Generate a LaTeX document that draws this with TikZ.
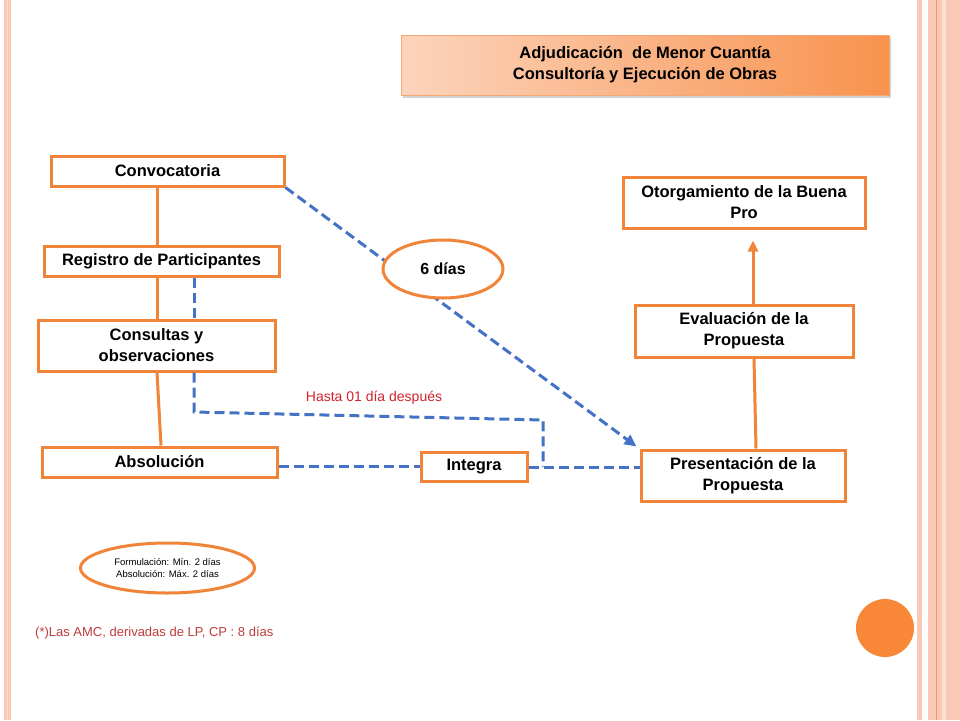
\documentclass[tikz,border=0pt]{standalone}
\usepackage{fontspec}
\setmainfont{Liberation Sans}
\usetikzlibrary{shadows,arrows.meta,shapes.geometric}
\definecolor{ora}{RGB}{240,132,56}
\definecolor{orafill}{RGB}{248,135,55}
\definecolor{pinkA}{RGB}{250,201,182}
\definecolor{pinkL}{RGB}{252,222,210}
\definecolor{blu}{RGB}{68,114,196}
\definecolor{redtxt}{RGB}{210,35,45}
\definecolor{redfoot}{RGB}{192,60,60}
\definecolor{titL}{RGB}{252,212,188}
\definecolor{titR}{RGB}{248,146,78}
\tikzset{
  boxnode/.style={draw=ora, line width=3pt, fill=white, inner sep=0pt, align=center,
    font=\fontsize{16.5}{21}\selectfont\bfseries},
  ovalnode/.style={ellipse, draw=ora, line width=3pt, fill=white, inner sep=0pt, align=center},
  oline/.style={draw=ora, line width=3pt},
  bdash/.style={draw=blu, line width=3pt, dash pattern=on 10pt off 5pt},
}
\begin{document}
\begin{tikzpicture}[x=1pt,y=-1pt]
\useasboundingbox (0,0) rectangle (960,720);
\fill[white] (0,0) rectangle (960,720);
% borders
\fill[pinkA] (4,0) rectangle (11,720);
\fill[pinkL] (7,0) rectangle (8,720);
\fill[pinkA] (917,0) rectangle (922,720);
\fill[pinkA] (928,0) rectangle (960,720);
\fill[pinkL] (942,0) rectangle (946,720);
\draw[draw=ora!80, line width=1pt] (936,0) -- (936,720);

% title
\node[draw=ora!70, line width=0.6pt, left color=titL, right color=titR, inner sep=0pt,
  minimum width=488pt, minimum height=60pt, align=center,
  drop shadow={shadow xshift=2pt, shadow yshift=-3pt, opacity=0.35},
  font=\fontsize{16.5}{21}\selectfont\bfseries] (title) at (645,65)
  {Adjudicación\ \ de Menor\ Cuantía\\Consultoría\ y Ejecución\ de Obras};

% nodes
\node[boxnode, minimum width=233pt, minimum height=30pt] (conv) at (167.5,171) {Convocatoria};
\node[boxnode, minimum width=235pt, minimum height=30pt] (reg) at (161.5,261) {Registro\ de Participantes};
\node[boxnode, minimum width=237pt, minimum height=51pt] (cons) at (156.5,345.5) {Consultas\ y\\observaciones};
\node[boxnode, minimum width=235pt, minimum height=30pt] (abs) at (159.5,462) {Absolución};
\node[boxnode, minimum width=106pt, minimum height=29pt] (integ) at (474,466.5) {Integra};
\node[boxnode, minimum width=204pt, minimum height=51pt] (pres) at (743,475.5) {Presentación\ de la\\Propuesta};
\node[boxnode, minimum width=218pt, minimum height=52pt] (eval) at (744,331) {Evaluación\ de la\\Propuesta};
\node[boxnode, minimum width=242pt, minimum height=51pt] (otor) at (744,202.5) {Otorgamiento\ de la Buena\\Pro};

% orange solid connectors
\draw[oline] ([xshift=-10.5pt]conv.south) -- ([xshift=-4.5pt]reg.north);
\draw[oline] ([xshift=-4.5pt]reg.south) -- ([xshift=0.5pt]cons.north);
\draw[oline] ([xshift=0.5pt]cons.south) -- ([xshift=1.5pt]abs.north);
\draw[oline] ([xshift=13pt]pres.north) -- ([xshift=10pt]eval.south);
\coordinate (otip) at ([xshift=9pt,yshift=-11pt]otor.south);
\draw[oline, -{Triangle[length=11pt,width=10pt]}] ([xshift=9pt]eval.north) -- (otip);

% blue dashed connectors
\coordinate (c1) at (194,412);
\coordinate (c2) at (543,420);
\coordinate (c3) at (543,467);
\draw[bdash] ([xshift=32.5pt]reg.south) -- ([xshift=37.5pt]cons.north);
\draw[bdash] ([xshift=37.5pt]cons.south) -- (c1) -- (c2) -- (c3);
\draw[bdash] (abs.east |- integ.west) -- (integ.west);
\draw[bdash] ([yshift=-1pt]integ.east) -- ([yshift=-1pt]integ.east -| pres.west);
\coordinate (btip) at ([xshift=-3pt,yshift=2pt]pres.north west);
\draw[bdash, -{Triangle[length=12pt,width=11pt]}] (conv.south east) -- (btip);

% ovals
\node[ovalnode, minimum width=120pt, minimum height=58pt, font=\fontsize{16}{18}\selectfont\bfseries] (six) at (443,269) {6 días};
\node[ovalnode, minimum width=174pt, minimum height=50pt, font=\fontsize{9.5}{11.5}\selectfont] (form) at (167.5,568)
  {Formulación: Mín. 2 días\\Absolución: Máx. 2 días};

% labels
\node[text=redtxt, font=\fontsize{14}{16}\selectfont, inner sep=0pt] (hasta) at (374,398) {Hasta 01 día después};
\node[text=redfoot, font=\fontsize{13}{15}\selectfont, inner sep=0pt, anchor=west] (foot) at (35,633) {(*)Las AMC, derivadas de LP, CP : 8 días};

% decorative circle
\fill[orafill] (885,628) circle (29pt);
\end{tikzpicture}
\end{document}
